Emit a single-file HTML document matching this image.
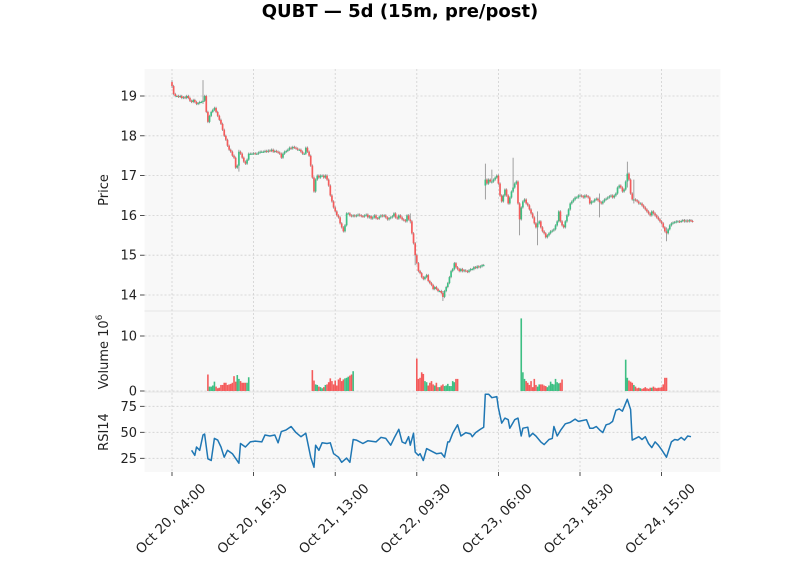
<!DOCTYPE html>
<html><head><meta charset="utf-8"><style>
body{margin:0;background:#fff;}
svg{display:block;font-family:"DejaVu Sans","Liberation Sans",sans-serif;}
</style></head><body>
<svg id="chart" width="800" height="575" viewBox="0 0 800 575">
<text x="400" y="17" text-anchor="middle" font-size="18" font-weight="bold" fill="#000">QUBT — 5d (15m, pre/post)</text>
<rect x="144.5" y="69" width="576" height="242" fill="#f8f8f8"/>
<rect x="144.5" y="311" width="576" height="81" fill="#f8f8f8"/>
<rect x="144.5" y="392" width="576" height="80" fill="#f8f8f8"/>
<line x1="144.5" x2="720.5" y1="311" y2="311" stroke="#e6e6e6"/>
<line x1="144.5" x2="720.5" y1="392" y2="392" stroke="#e6e6e6"/>
<g id="grid"></g>
<g id="marks"></g>
<g id="axes"></g>
<text transform="translate(108,190) rotate(-90)" text-anchor="middle" font-size="13" fill="#222">Price</text>
<text transform="translate(108,352) rotate(-90)" text-anchor="middle" font-size="13" fill="#222">Volume  10<tspan font-size="9" dy="-6">6</tspan></text>
<text transform="translate(108,432) rotate(-90)" text-anchor="middle" font-size="13" fill="#222">RSI14</text>
</svg>
<script>
const closes = [
19.25,19.05,19.0,19.0,18.98,19.0,18.95,18.97,18.95,19.0,18.95,18.88,18.85,18.9,18.85,18.8,18.82,18.85,18.85,18.88,19.0,18.6,18.35,18.5,18.6,18.65,18.7,18.6,18.5,18.4,18.3,18.15,18.0,17.9,17.75,17.65,17.6,17.5,17.45,17.2,17.25,17.6,17.55,17.45,17.35,17.3,17.4,17.55,17.55,17.55,17.56,17.55,17.55,17.58,17.6,17.6,17.6,17.62,17.6,17.63,17.62,17.65,17.6,17.62,
17.6,17.58,17.55,17.45,17.55,17.6,17.62,17.65,17.7,17.68,17.72,17.7,17.68,17.65,17.65,17.6,17.55,17.55,17.7,17.6,17.5,17.25,16.95,16.6,16.9,17.0,16.95,17.0,17.0,16.95,17.0,16.9,16.75,16.5,16.35,16.2,16.1,16.0,15.95,15.8,15.7,15.6,15.75,16.05,16.05,16.0,15.98,16.0,15.98,16.0,16.02,16.0,15.98,15.97,16.0,16.02,15.95,15.98,15.92,15.95,16.0,15.93,15.92,15.97,
16.0,15.98,16.0,15.95,15.9,15.93,15.95,15.98,16.05,15.95,15.92,16.0,15.95,15.9,15.88,15.85,16.0,15.9,15.85,15.55,15.3,15.0,14.8,14.6,14.55,14.45,14.4,14.45,14.5,14.35,14.3,14.25,14.15,14.2,14.15,14.1,14.1,14.05,13.95,14.1,14.2,14.3,14.45,14.6,14.65,14.8,14.7,14.65,14.6,14.65,14.6,14.62,14.6,14.58,14.62,14.65,14.65,14.7,14.68,14.72,14.7,14.72,14.75,14.75,
16.9,16.8,16.9,16.85,16.85,16.9,16.95,17.0,16.8,16.5,16.35,16.5,16.65,16.5,16.3,16.45,16.6,16.7,16.8,16.85,16.3,15.9,16.2,16.35,16.4,16.3,16.25,16.15,16.05,15.95,15.8,15.7,15.8,15.85,15.7,15.6,15.55,15.45,15.5,15.55,15.6,15.62,15.65,15.75,15.85,16.1,15.85,15.75,15.7,15.85,16.0,16.15,16.3,16.35,16.4,16.45,16.45,16.5,16.5,16.48,16.45,16.5,16.48,16.45,
16.3,16.35,16.35,16.4,16.42,16.38,16.33,16.3,16.35,16.4,16.42,16.45,16.48,16.5,16.45,16.5,16.55,16.7,16.75,16.7,16.6,16.65,16.85,17.05,16.9,16.55,16.4,16.4,16.38,16.35,16.3,16.3,16.25,16.2,16.15,16.1,16.05,16.0,16.1,16.05,16.0,15.95,15.9,15.85,15.8,15.7,15.6,15.55,15.65,15.75,15.8,15.82,15.83,15.85,15.85,15.84,15.86,15.88,15.85,15.87,15.85,15.88,15.86,15.85];
const firstOpen = 19.35;
const gapIdx = [192];
const gapOpen = [16.75];
const wickIdx = [0,19,41,166,192,196,209,213,224,262,279,283,303,146,149];
const wickHigh = [19.4,19.4,17.65,14.1,17.3,17.15,17.45,16.3,16.1,16.55,17.35,16.9,15.7,16.05,15.2];
const wickLow = [19.2,18.8,17.1,13.85,16.4,16.8,16.6,15.5,15.25,15.95,16.7,16.3,15.35,15.8,14.75];
const volDays = [0,1,2,3,4];
const volDay1 = [3.0,0.8,0.8,1.0,1.7,0.8,0.5,0.6,1.1,1.1,1.5,1.5,1.1,1.2,1.3,1.5,2.7,1.7,2.9,2.2,1.8,1.5,1.5,1.5,1.5,2.5];
const volDay2 = [3.8,1.9,1.2,1.1,0.8,0.7,0.5,0.7,1.1,1.2,1.6,2.3,1.8,1.2,1.9,1.0,2.1,2.4,1.8,2.1,2.3,2.4,2.6,2.8,3.0,3.6];
const volDay3 = [5.9,2.2,2.4,3.4,3.1,1.8,1.6,1.0,1.5,1.8,1.2,1.0,1.5,0.7,0.7,1.0,1.2,0.9,1.0,1.3,0.9,0.9,1.8,1.6,2.2,2.2];
const volDay4 = [13.2,3.4,2.2,1.8,1.5,1.1,1.8,0.7,2.2,1.1,0.8,1.2,1.2,1.2,1.0,0.9,0.7,1.0,1.7,1.3,1.2,2.2,1.6,1.4,1.5,2.1];
const volDay5 = [5.7,2.4,1.9,1.7,1.5,1.1,0.8,0.5,0.6,0.5,0.4,0.5,0.7,0.5,0.4,0.6,0.6,0.8,0.6,0.5,0.6,0.6,0.7,1.2,2.4,2.4];
const rsiIdx = [12,14,15,17,19,20,22,24,26,28,30,32,34,37,41,42,45,48,51,55,57,60,63,65,67,70,73,76,79,82,85,87,88,90,92,95,97,99,102,104,107,109,111,113,117,120,125,128,131,134,136,139,141,143,145,146,148,149,151,152,154,156,158,162,165,167,169,170,172,175,177,180,183,184,186,189,191,192,194,196,199,200,202,204,206,207,210,212,214,215,218,219,221,223,226,228,231,233,234,236,238,241,244,247,249,252,254,256,258,260,262,264,266,268,270,272,274,276,279,281,282,284,286,288,290,292,294,296,298,300,303,304,306,308,310,312,314,316,318];
const rsiVal = [32.7,27.8,35.9,32.7,47.4,48.4,24.5,22.9,44.1,42.5,35.9,26.1,32.7,29.4,20.3,39.2,35.9,40.8,41.5,40.8,47.4,46.4,47.4,39.9,50.7,52.3,55.6,49.7,45.8,49.0,26.1,16.3,37.6,32.7,39.9,39.2,39.9,29.4,26.1,21.2,25.2,21.2,43.1,42.5,39.2,41.8,40.8,45.1,44.1,37.6,44.1,52.9,40.8,39.2,45.8,37.6,49.0,31.0,27.8,29.4,22.9,34.3,32.7,29.4,30.1,26.1,40.8,40.8,49.0,57.2,46.4,49.7,48.4,45.8,49.7,52.9,54.9,86.6,86.6,83.3,84.3,73.5,58.8,63.7,62.1,53.9,62.1,63.7,46.4,53.9,54.9,45.8,49.0,46.4,40.8,38.2,43.1,44.1,55.6,46.4,51.6,58.2,59.5,62.7,60.5,61.4,62.1,53.9,53.9,55.6,52.3,49.7,57.2,58.2,60.5,71.2,72.5,70.3,81.7,71.9,42.5,44.1,45.8,43.1,45.8,39.2,35.3,40.8,37.6,33.3,26.1,31.0,40.8,43.1,42.5,45.1,42.5,46.4,45.8];
const priceTicks = [14,15,16,17,18,19];
const volTicks = [0,10];
const rsiTicks = [25,50,75];
const xTickIdx = [0,50,100,150,200,250,300];
const xTickLabels = ["Oct 20, 04:00","Oct 20, 16:30","Oct 21, 13:00","Oct 22, 09:30","Oct 23, 06:00","Oct 23, 18:30","Oct 24, 15:00"];

const NS="http://www.w3.org/2000/svg";
const X = i => 172 + i*1.632;
const PY = v => 96 + (19 - v)*39.8;
const VY = v => 391 - v*5.5;
const RY = v => 432.3 - (v - 50)*1.04;
const UP="#3dbf83", DN="#f45b5b";
function mk(tag, parent, attrs){const e=document.createElementNS(NS,tag);for(const k in attrs)e.setAttribute(k,attrs[k]);parent.appendChild(e);return e;}
const grid=document.getElementById('grid'), marks=document.getElementById('marks'), axes=document.getElementById('axes');

xTickIdx.forEach(i=>{
  const l=mk('line',grid,{x1:X(i),x2:X(i),y1:69,y2:472,stroke:'#d0d0d0','stroke-dasharray':'2,2','stroke-width':0.8});
  
  
});
function hgrid(y,name){const l=mk('line',grid,{x1:144.5,x2:720.5,y1:y,y2:y,stroke:'#d0d0d0','stroke-dasharray':'2,2','stroke-width':0.8});
  
  }
priceTicks.forEach(v=>hgrid(PY(v),'price-grid-line'));
volTicks.forEach(v=>hgrid(VY(v),'volume-grid-line'));
rsiTicks.forEach(v=>hgrid(RY(v),'rsi-grid-line'));

const opens=closes.map((c,i)=>{const g=gapIdx.indexOf(i); if(g>=0) return gapOpen[g]; return i===0?firstOpen:closes[i-1];});
closes.forEach((c,i)=>{
  const o=opens[i]; const up=c>=o; const col=up?UP:DN;
  let hi=Math.max(o,c)+0.03, lo=Math.min(o,c)-0.03;
  const k=wickIdx.indexOf(i);
  if(k>=0){hi=Math.max(hi,wickHigh[k]);lo=Math.min(lo,wickLow[k]);}
  const w=mk('line',marks,{x1:X(i),x2:X(i),y1:PY(hi),y2:PY(lo),stroke:'#8a8a8a','stroke-width':0.8});
  
  
  const y1=PY(Math.max(o,c)), y2=PY(Math.min(o,c));
  const b=mk('rect',marks,{x:X(i)-0.85,y:y1,width:1.7,height:Math.max(1,y2-y1),fill:col});
  
  
});

const volAll=[volDay1,volDay2,volDay3,volDay4,volDay5];
volDays.forEach(d=>{
  volAll[d].forEach((v,j)=>{
    const i=d*64+22+j;
    const up=closes[i]>=opens[i];
    const r=mk('rect',marks,{x:X(i)-0.8,y:VY(v),width:1.6,height:VY(0)-VY(v),fill:up?UP:DN});
    
    
  });
});

const pts=rsiIdx.map((i,k)=>X(i).toFixed(1)+','+RY(rsiVal[k]).toFixed(1)).join(' ');
const pl=mk('polyline',marks,{points:pts,fill:'none',stroke:'#1f77b4','stroke-width':1.5,'stroke-linejoin':'round'});



function ytick(y,label,name){
  const t=mk('line',axes,{x1:140,x2:144.5,y1:y,y2:y,stroke:'#222','stroke-width':0.8});
  
  
  const tx=mk('text',axes,{x:137,y:y+4.5,'text-anchor':'end','font-size':13,fill:'#222'});
  tx.textContent=label;
  
  
}
priceTicks.forEach(v=>ytick(PY(v),String(v),'price-tick'));
volTicks.forEach(v=>ytick(VY(v),String(v),'volume-tick'));
rsiTicks.forEach(v=>ytick(RY(v),String(v),'rsi-tick'));
xTickIdx.forEach((i,k)=>{
  const t=mk('line',axes,{x1:X(i),x2:X(i),y1:472,y2:476,stroke:'#222','stroke-width':0.8});
  
  
  const tx=mk('text',axes,{transform:`translate(${X(i)-1},${519}) rotate(-45)`,'text-anchor':'middle','dominant-baseline':'central','font-size':13.5,fill:'#222'});
  tx.textContent=xTickLabels[k];
  
  
});
</script>
</body></html>
